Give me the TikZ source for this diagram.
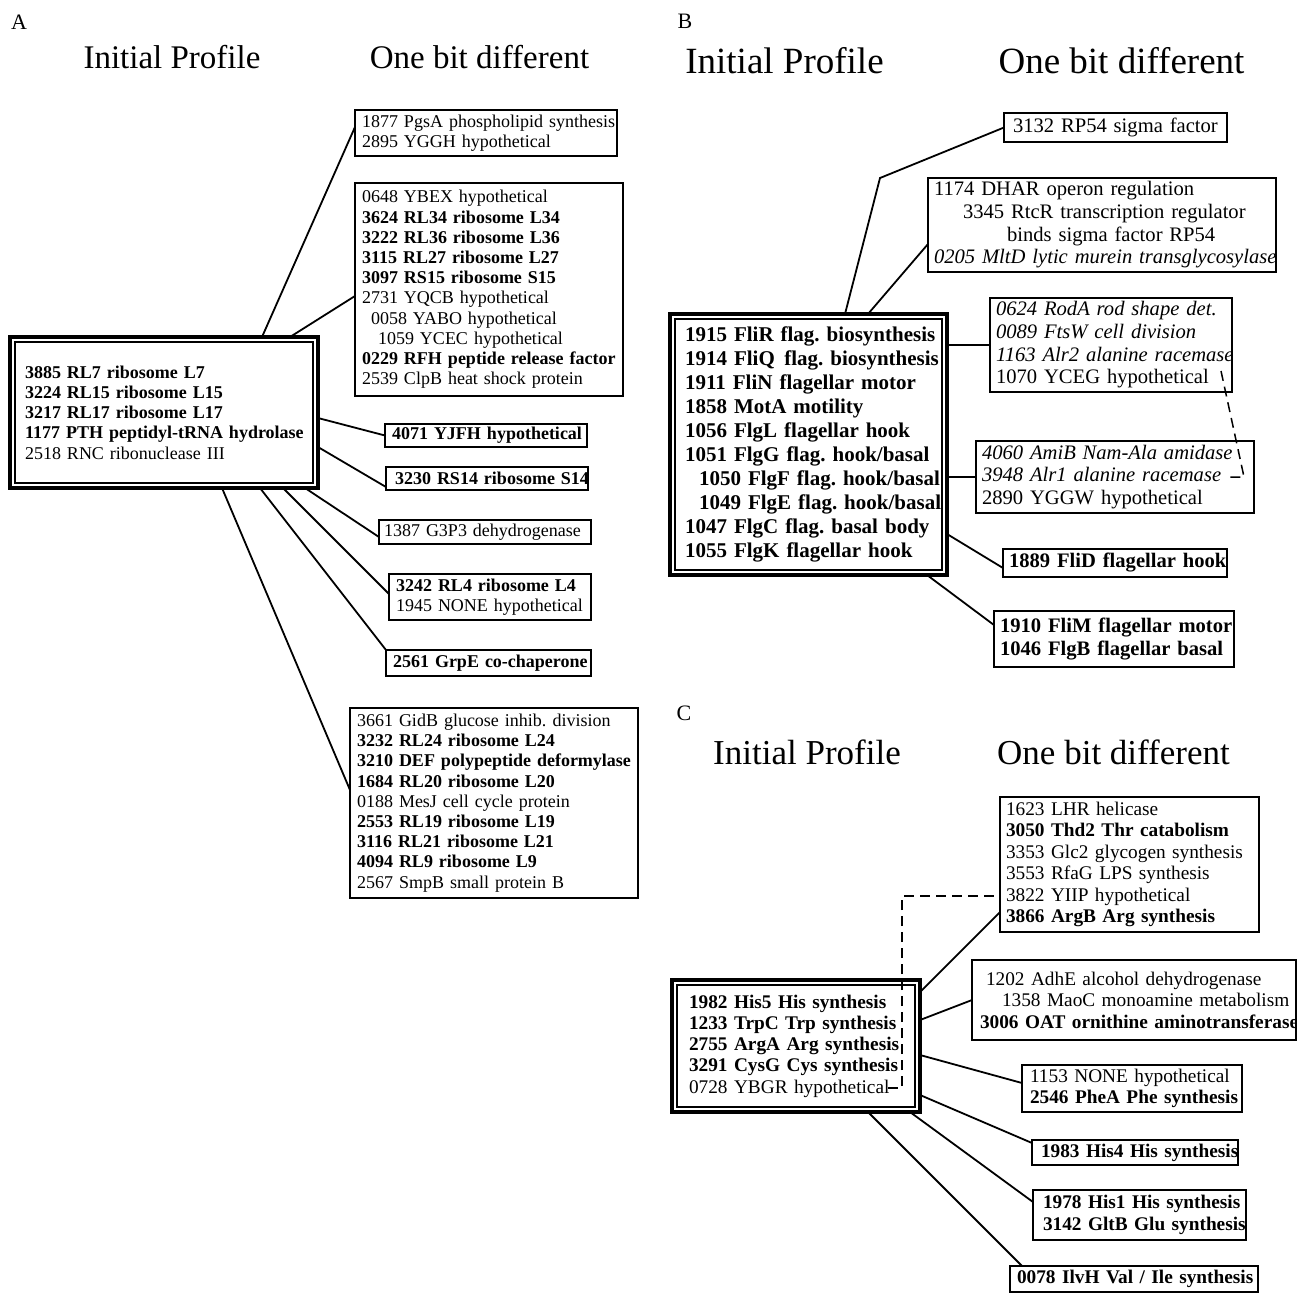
\documentclass[tikz,border=0pt]{standalone}
\usepackage{fontspec}
\setmainfont{Liberation Serif}
\usetikzlibrary{calc}
\newcommand\lnR[1]{\mbox{#1}}
\newcommand\lnB[1]{\mbox{\bfseries #1}}
\newcommand\lnI[1]{\mbox{\itshape #1}}
\begin{document}
\frenchspacing
\begin{tikzpicture}[x=1pt,y=-1pt,
  obox/.style={draw, line width=1.4pt, rectangle, anchor=north west, inner xsep=7pt, inner ysep=0pt, outer sep=0pt, align=left},
  cbox/.style={draw, line width=3.5pt, rectangle, anchor=north west, inner ysep=0pt, outer sep=0pt, align=left},
  conn/.style={line width=1.8pt},
  dconn/.style={line width=1.5pt, dash pattern=on 10pt off 6pt},
  fA/.style={font=\fontsize{18pt}{20.2pt}\selectfont},
  fB/.style={font=\fontsize{20.6pt}{22.7pt}\selectfont},
  fBc/.style={font=\fontsize{21pt}{24pt}\selectfont},
  fC/.style={font=\fontsize{19.3pt}{21.4pt}\selectfont},
  fCc/.style={font=\fontsize{19.3pt}{21.3pt}\selectfont},
  ttlA/.style={anchor=base, font=\fontsize{33pt}{36pt}\selectfont},
  ttlB/.style={anchor=base, font=\fontsize{37pt}{40pt}\selectfont},
  ttlC/.style={anchor=base, font=\fontsize{35pt}{38pt}\selectfont},
  letter/.style={anchor=base, font=\fontsize{22pt}{24pt}\selectfont}
]
\fill[white] (0,0) rectangle (1297,1293);
\useasboundingbox (0,0) rectangle (1297,1293);

% ---------------- Panel A ----------------
\node[letter] (lA) at (19,29) {A};
\node[ttlA] (tA1) at (172,68) {Initial Profile};
\node[ttlA] (tA2) at (479.5,68) {One bit different};

\node[cbox, fA, inner xsep=15pt, text width=278pt, minimum height=151pt] (cA) at (10,337)
 {\lnB{3885 RL7 ribosome L7}\\\lnB{3224 RL15 ribosome L15}\\\lnB{3217 RL17 ribosome L17}\\\lnB{1177 PTH peptidyl-tRNA hydrolase}\\\lnR{2518 RNC ribonuclease III}};
\draw[line width=1.5pt] ($(cA.north west)+(5,5)$) rectangle ($(cA.south east)+(-5,-5)$);

\node[obox, fA, text width=248pt, minimum height=46pt] (a1) at (355,110)
 {\lnR{1877 PgsA phospholipid synthesis}\\\lnR{2895 YGGH hypothetical}};
\node[obox, fA, text width=254pt, minimum height=213pt] (a2) at (355,183)
 {\lnR{0648 YBEX hypothetical}\\\lnB{3624 RL34 ribosome L34}\\\lnB{3222 RL36 ribosome L36}\\\lnB{3115 RL27 ribosome L27}\\\lnB{3097 RS15 ribosome S15}\\\lnR{2731 YQCB hypothetical}\\\lnR{\hspace*{9pt}0058 YABO hypothetical}\\\lnR{\hspace*{16pt}1059 YCEC hypothetical}\\\lnB{0229 RFH peptide release factor}\\\lnR{2539 ClpB heat shock protein}};
\node[obox, fA, text width=188pt, minimum height=23pt] (a3) at (385,424)
 {\lnB{4071 YJFH hypothetical}};
\node[obox, fA, text width=188pt, minimum height=23pt] (a4) at (386,467)
 {\lnB{\hspace*{2pt}3230 RS14 ribosome S14}};
\node[obox, fA, text width=198pt, minimum height=24pt] (a5) at (379,520)
 {\lnR{\hspace*{-2pt}1387 G3P3 dehydrogenase}};
\node[obox, fA, text width=188pt, minimum height=46pt] (a6) at (389,574)
 {\lnB{3242 RL4 ribosome L4}\\\lnR{1945 NONE hypothetical}};
\node[obox, fA, text width=191pt, minimum height=26pt] (a7) at (386,650)
 {\lnB{2561 GrpE co-chaperone}};
\node[obox, fA, text width=274pt, minimum height=190pt] (a8) at (350,708)
 {\lnR{3661 GidB glucose inhib. division}\\\lnB{3232 RL24 ribosome L24}\\\lnB{3210 DEF polypeptide deformylase}\\\lnB{1684 RL20 ribosome L20}\\\lnR{0188 MesJ cell cycle protein}\\\lnB{2553 RL19 ribosome L19}\\\lnB{3116 RL21 ribosome L21}\\\lnB{4094 RL9 ribosome L9}\\\lnR{2567 SmpB small protein B}};

\draw[conn] ($(cA.north west)+(252,0)$) -- ($(a1.north west)+(0,17)$);
\draw[conn] ($(cA.north west)+(280,0)$) -- ($(a2.north west)+(0,113)$);
\draw[conn] ($(cA.north east)+(0,81)$) -- (a3.west);
\draw[conn] ($(cA.north east)+(0,110)$) -- ($(a4.north west)+(0,20)$);
\draw[conn] ($(cA.south east)+(-13,0)$) -- ($(a5.north west)+(0,17)$);
\draw[conn] ($(cA.south east)+(-35,0)$) -- ($(a6.north west)+(0,20)$);
\draw[conn] ($(cA.south east)+(-58,0)$) -- (a7.north west);
\draw[conn] ($(cA.south west)+(212,0)$) -- ($(a8.north west)+(0,82)$);

% ---------------- Panel B ----------------
\node[letter] (lB) at (685,28) {B};
\node[ttlB] (tB1) at (784.5,73) {Initial Profile};
\node[ttlB] (tB2) at (1121.5,73) {One bit different};

\node[cbox, fBc, inner xsep=15pt, text width=247pt, minimum height=261pt] (cB) at (670,314)
 {\lnB{1915 FliR flag. biosynthesis}\\\lnB{1914 FliQ\hspace{0.45em}flag. biosynthesis}\\\lnB{1911 FliN flagellar motor}\\\lnB{1858 MotA motility}\\\lnB{1056 FlgL flagellar hook}\\\lnB{1051 FlgG flag. hook/basal}\\\lnB{\hspace*{14pt}1050 FlgF flag. hook/basal}\\\lnB{\hspace*{14pt}1049 FlgE flag. hook/basal}\\\lnB{1047 FlgC flag. basal body}\\\lnB{1055 FlgK flagellar hook}};
\draw[line width=1.5pt] ($(cB.north west)+(5,5)$) rectangle ($(cB.south east)+(-5,-5)$);

\node[obox, fB, text width=209pt, minimum height=29pt] (b1) at (1004,113)
 {\lnR{\hspace*{2pt}3132 RP54 sigma factor}};
\node[obox, fB, inner xsep=6pt, text width=336pt, minimum height=94pt] (b2) at (928,178)
 {\lnR{1174 DHAR operon regulation}\\\lnR{\hspace*{29pt}3345 RtcR transcription regulator}\\\lnR{\hspace*{73pt}binds sigma factor RP54}\\\lnI{0205 MltD lytic murein transglycosylase}};
\node[obox, fB, inner xsep=6pt, text width=230pt, minimum height=94pt] (b3) at (990,298)
 {\lnI{0624 RodA rod shape det.}\\\lnI{0089 FtsW cell division}\\\lnI{1163 Alr2 alanine racemase}\\\lnR{1070 YCEG hypothetical}};
\node[obox, fB, inner xsep=6pt, text width=266pt, minimum height=72pt] (b4) at (976,441)
 {\lnI{4060 AmiB Nam-Ala amidase}\\\lnI{3948 Alr1 alanine racemase}\\\lnR{2890 YGGW hypothetical}};
\node[obox, fB, inner xsep=6pt, text width=212pt, minimum height=28pt] (b5) at (1003,549)
 {\lnB{1889 FliD flagellar hook}};
\node[obox, fB, inner xsep=6pt, text width=228pt, minimum height=56pt] (b6) at (994,611)
 {\lnB{1910 FliM flagellar motor}\\\lnB{1046 FlgB flagellar basal}};

\coordinate (bendB) at (880,178);
\draw[conn] ($(cB.north west)+(175,0)$) -- (bendB) -- (b1.west);
\draw[conn] ($(cB.north west)+(198,0)$) -- ($(b2.north west)+(0,66)$);
\draw[conn] (b3.west -| cB.east) -- (b3.west);
\draw[conn] (b4.west -| cB.east) -- (b4.west);
\draw[conn] ($(cB.north east)+(0,220)$) -- ($(b5.north west)+(0,19)$);
\draw[conn] ($(cB.south east)+(-20,0)$) -- ($(b6.north west)+(0,14)$);

\coordinate (dBs) at (1221,371);
\coordinate (dBc) at (1244,477);
\coordinate (dBe) at (1229,477);
\draw[dconn] (dBs) -- (dBc) -- (dBe);

% ---------------- Panel C ----------------
\node[letter] (lC) at (684,720) {C};
\node[ttlC] (tC1) at (807,764) {Initial Profile};
\node[ttlC] (tC2) at (1113.5,764) {One bit different};

\node[cbox, fCc, inner xsep=17pt, text width=214pt, minimum height=132pt] (cC) at (672,980)
 {\lnB{1982 His5 His synthesis}\\\lnB{1233 TrpC Trp synthesis}\\\lnB{2755 ArgA Arg synthesis}\\\lnB{3291 CysG Cys synthesis}\\\lnR{0728 YBGR hypothetical}};
\draw[line width=1.5pt] ($(cC.north west)+(5,5)$) rectangle ($(cC.south east)+(-5,-5)$);

\node[obox, fC, inner xsep=6pt, text width=247pt, minimum height=135pt] (c1) at (1000,797)
 {\lnR{1623 LHR helicase}\\\lnB{3050 Thd2 Thr catabolism}\\\lnR{3353 Glc2 glycogen synthesis}\\\lnR{3553 RfaG LPS synthesis}\\\lnR{3822 YIIP hypothetical}\\\lnB{3866 ArgB Arg synthesis}};
\node[obox, fC, inner xsep=8pt, text width=308pt, minimum height=80pt] (c2) at (972,960)
 {\lnR{\hspace*{6pt}1202 AdhE alcohol dehydrogenase}\\\lnR{\hspace*{22pt}1358 MaoC monoamine metabolism}\\\lnB{3006 OAT ornithine aminotransferase}};
\node[obox, fC, inner xsep=8pt, text width=204pt, minimum height=47pt] (c3) at (1022,1065)
 {\lnR{1153 NONE hypothetical}\\\lnB{2546 PheA Phe synthesis}};
\node[obox, fC, inner xsep=9pt, text width=188pt, minimum height=25pt] (c4) at (1032,1140)
 {\lnB{1983 His4 His synthesis}};
\node[obox, fC, inner xsep=10pt, text width=193pt, minimum height=50pt] (c5) at (1033,1190)
 {\lnB{1978 His1 His synthesis}\\\lnB{3142 GltB Glu synthesis}};
\node[obox, fC, inner xsep=7pt, text width=234pt, minimum height=26pt] (c6) at (1010,1266)
 {\lnB{0078 IlvH Val / Ile synthesis}};

\draw[conn] ($(cC.north east)+(0,12)$) -- ($(c1.north west)+(0,115)$);
\draw[conn] ($(cC.north east)+(0,40)$) -- (c2.west);
\draw[conn] ($(cC.north east)+(0,75)$) -- ($(c3.north west)+(0,18)$);
\draw[conn] ($(cC.north east)+(0,115)$) -- ($(c4.north west)+(0,3)$);
\draw[conn] ($(cC.south east)+(-10,0)$) -- ($(c5.north west)+(0,12)$);
\draw[conn] ($(cC.south east)+(-52,0)$) -- ($(c6.north west)+(12,0)$);

\coordinate (dCs) at (888,1088);
\coordinate (dCc1) at (902,1088);
\coordinate (dCc2) at (902,896);
\draw[dconn] (dCs) -- (dCc1) -- (dCc2) -- ($(c1.north west)+(0,99)$);
\end{tikzpicture}
\end{document}
